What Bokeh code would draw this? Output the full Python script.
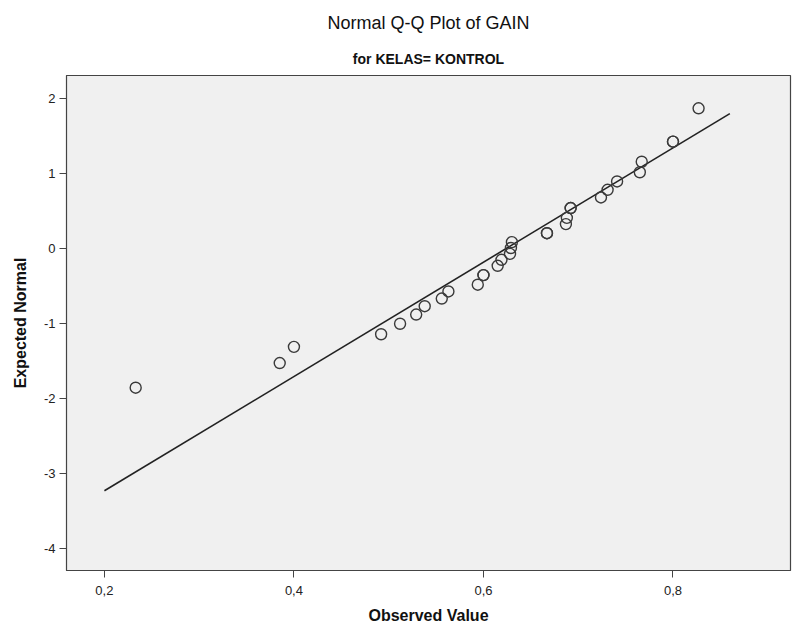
from bokeh.plotting import figure
from bokeh.models import Range1d, Title, CustomJSTickFormatter, FixedTicker, ColumnDataSource
from bokeh.embed import file_html
from bokeh.resources import INLINE
import numpy as np

observed = [0.233, 0.385, 0.400, 0.492, 0.512, 0.529, 0.538, 0.556, 0.563, 0.594,
            0.600, 0.600, 0.615, 0.619, 0.628, 0.629, 0.630, 0.667, 0.667, 0.687,
            0.688, 0.692, 0.692, 0.724, 0.731, 0.741, 0.765, 0.767, 0.800, 0.800,
            0.827]
# Expected normal values
expected = [-1.863, -1.534, -1.318, -1.150, -1.010, -0.887, -0.776, -0.674, -0.579, -0.489,
            -0.361, -0.361, -0.237, -0.157, -0.078, 0.000, 0.078, 0.197, 0.197, 0.319,
            0.402, 0.533, 0.533, 0.674, 0.776, 0.887, 1.010, 1.150, 1.418, 1.418,
            1.863]
x_ticks = [0.2, 0.4, 0.6, 0.8]
y_ticks = [-4, -3, -2, -1, 0, 1, 2]
line_x = [0.2, 0.86]

mean = float(np.mean(observed))
sd = float(np.std(observed, ddof=1))
line_y = [(v - mean) / sd for v in line_x]

FONT = "Liberation Sans"

p = figure(frame_width=724, frame_height=495, output_backend="svg", toolbar_location=None,
           title=None,
           x_range=Range1d(0.16, 0.924), y_range=Range1d(-4.3, 2.3),
           min_border_left=66, min_border_right=4, min_border_top=75, min_border_bottom=56)

p.background_fill_color = "#f0f0f0"
p.border_fill_color = "white"
p.outline_line_color = "#444444"
p.outline_line_width = 1.2
p.grid.visible = False

p.add_layout(Title(text="for KELAS= KONTROL", align="center",
                   text_font=FONT, text_font_size="14px", text_font_style="bold",
                   text_color="#111111", standoff=17), "above")
p.add_layout(Title(text="Normal Q-Q Plot of GAIN", align="center",
                   text_font=FONT, text_font_size="18px", text_font_style="normal",
                   text_color="#111111", standoff=15), "above")

for ax in (p.xaxis[0], p.yaxis[0]):
    ax.axis_line_color = "#444444"
    ax.major_tick_line_color = "#444444"
    ax.major_tick_in = 0
    ax.major_tick_out = 7
    ax.minor_tick_line_color = None
    ax.major_label_text_font = FONT
    ax.major_label_text_font_size = "13px"
    ax.major_label_text_color = "#222222"
    ax.axis_label_text_font = FONT
    ax.axis_label_text_font_size = "16px"
    ax.axis_label_text_font_style = "bold"
    ax.axis_label_text_color = "#111111"

p.xaxis.ticker = FixedTicker(ticks=x_ticks)
p.yaxis.ticker = FixedTicker(ticks=y_ticks)
p.xaxis.formatter = CustomJSTickFormatter(code="return tick.toFixed(1).replace('.', ',');")
p.yaxis.formatter = CustomJSTickFormatter(code="return String(Math.round(tick));")
p.xaxis.axis_label = "Observed Value"
p.yaxis.axis_label = "Expected Normal"
p.xaxis.major_label_standoff = 8
p.yaxis.major_label_standoff = 4
p.xaxis.axis_label_standoff = 9
p.yaxis.axis_label_standoff = 12

p.line(line_x, line_y, line_color="#222222", line_width=1.6)

src = ColumnDataSource(data=dict(x=observed, y=expected))
p.scatter("x", "y", source=src, marker="circle", size=11, fill_color=None,
          line_color="#3a3a3a", line_width=1.4)

open("out.html", "w").write(file_html(p, INLINE))
